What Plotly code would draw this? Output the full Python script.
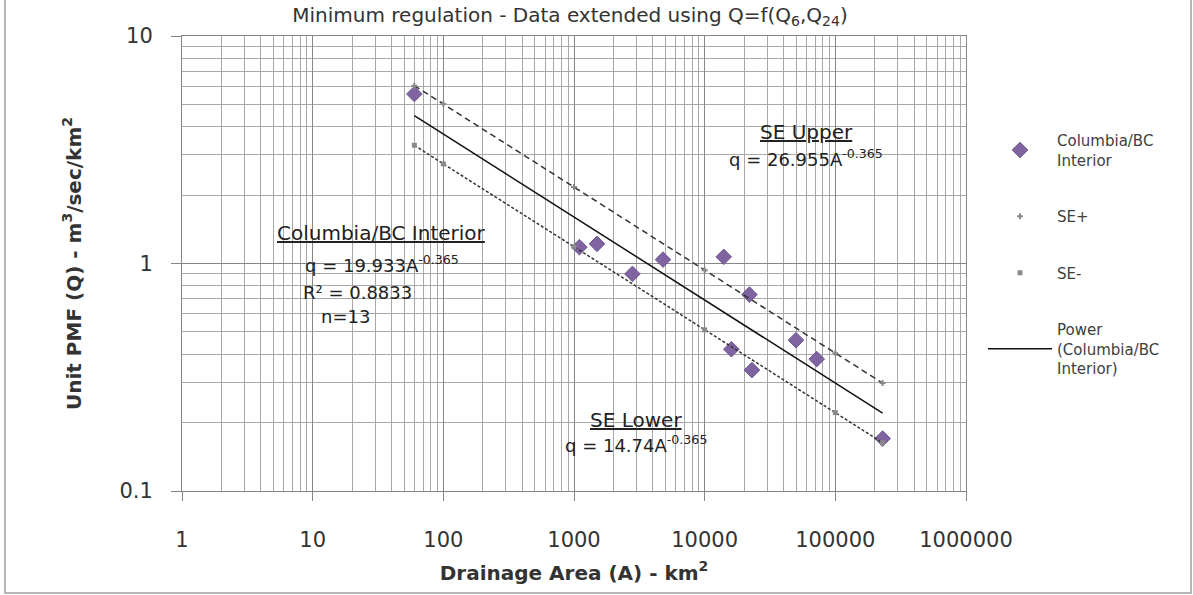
import plotly.graph_objects as go

# ---- data ----
area = [60, 1100, 1500, 2800, 4800, 14000, 16000, 22000, 23000, 50000, 72000, 230000]
unit_q = [5.56, 1.18, 1.22, 0.90, 1.04, 1.07, 0.42, 0.73, 0.34, 0.46, 0.38, 0.17]

fit_area = [60, 100, 1000, 10000, 100000, 230000]
fit_q = [4.47, 3.71, 1.60, 0.691, 0.298, 0.220]

se_area = [60, 100, 1000, 10000, 100000, 230000]
se_upper = [6.05, 5.02, 2.17, 0.935, 0.403, 0.298]
se_lower = [3.31, 2.74, 1.185, 0.511, 0.221, 0.163]

x_ticks = [1, 10, 100, 1000, 10000, 100000, 1000000]
x_labels = ["1", "10", "100", "1000", "10000", "100000", "1000000"]
y_ticks = [0.1, 1, 10]
y_labels = ["0.1", "1", "10"]

FONT = "DejaVu Sans"
TXT = "#333333"
GRID = "#a8a8a8"
MAJOR = "#868686"

# plot area in pixels
L, R, T, B = 182, 966, 36, 491
W, H = 1193, 595


def px(xp):
    return (xp - L) / (R - L)


def py(yp):
    return (B - yp) / (B - T)


fig = go.Figure()

fig.add_trace(go.Scatter(
    x=area, y=unit_q, mode="markers", name="Columbia/BC<br>Interior",
    legendgroup="a",
    marker=dict(symbol="diamond", size=12, color="#8064A2",
                line=dict(color="#6E5790", width=1)),
))
fig.add_trace(go.Scatter(
    x=se_area, y=se_upper, mode="lines", showlegend=False,
    line=dict(color="#333333", width=1.5, dash="6px,4px"), hoverinfo="skip",
))
fig.add_trace(go.Scatter(
    x=se_area, y=se_upper, mode="markers", name="SE+", legendgroup="b",
    marker=dict(symbol="cross", size=5, color="#8a8a8a"),
))
fig.add_trace(go.Scatter(
    x=se_area, y=se_lower, mode="lines", showlegend=False,
    line=dict(color="#333333", width=1.5, dash="3px,2px"), hoverinfo="skip",
))
fig.add_trace(go.Scatter(
    x=se_area, y=se_lower, mode="markers", name="SE-", legendgroup="c",
    marker=dict(symbol="square", size=5, color="#8a8a8a"),
))
fig.add_trace(go.Scatter(
    x=fit_area, y=fit_q, mode="lines", name="Power<br>(Columbia/BC<br>Interior)",
    legendgroup="d",
    line=dict(color="#111111", width=1.5),
))

minor_x = [m * 10 ** k for k in range(0, 6) for m in range(2, 10)]
minor_y = [m * 10 ** k for k in (-1, 0) for m in range(2, 10)]

fig.update_xaxes(
    type="log", range=[0, 6], tickvals=x_ticks, ticktext=x_labels,
    showgrid=True, gridcolor=MAJOR, gridwidth=1,
    showline=True, linecolor=MAJOR, linewidth=1, mirror=True,
    ticks="outside", ticklen=9, tickcolor=MAJOR, ticklabelstandoff=21,
    tickfont=dict(family=FONT, size=21, color=TXT),
    minor=dict(tickvals=minor_x, showgrid=True, gridcolor=GRID, gridwidth=1, ticks=""),
    title=dict(text="<b>Drainage Area (A) - km<sup>2</sup></b>",
               font=dict(family=FONT, size=20, color=TXT), standoff=14),
    zeroline=False,
)
fig.update_yaxes(
    type="log", range=[-1, 1], tickvals=y_ticks, ticktext=y_labels,
    showgrid=True, gridcolor=MAJOR, gridwidth=1,
    showline=True, linecolor=MAJOR, linewidth=1, mirror=True,
    ticks="outside", ticklen=10, tickcolor=MAJOR, ticklabelstandoff=14,
    tickfont=dict(family=FONT, size=21, color=TXT),
    minor=dict(tickvals=minor_y, showgrid=True, gridcolor=GRID, gridwidth=1, ticks=""),
    title=dict(text="<b>Unit PMF (Q) - m<sup>3</sup>/sec/km<sup>2</sup></b>",
               font=dict(family=FONT, size=20, color=TXT), standoff=32),
    zeroline=False,
)

head_font = dict(family=FONT, size=20, color="#222222")
eq_font = dict(family=FONT, size=18, color="#222222")
annotations = [
    ("<u>Columbia/BC Interior</u>", 381, 233, head_font),
    ("q = 19.933A<sup>-0.365</sup>", 382, 264, eq_font),
    ("R² = 0.8833", 357, 292, eq_font),
    ("n=13", 345, 316, eq_font),
    ("<u>SE Upper</u>", 806, 132, head_font),
    ("q = 26.955A<sup>-0.365</sup>", 806, 158, eq_font),
    ("<u>SE Lower</u>", 636, 420, head_font),
    ("q = 14.74A<sup>-0.365</sup>", 636, 444, eq_font),
]
for text, ax_, ay_, f in annotations:
    fig.add_annotation(text=text, x=px(ax_), y=py(ay_), xref="paper", yref="paper",
                       showarrow=False, xanchor="center", yanchor="middle", font=f)

# chart-area border
fig.add_shape(type="rect", xref="paper", yref="paper",
              x0=px(5), x1=px(1191), y0=py(593), y1=py(-5),
              line=dict(color="#a0a0a0", width=1.5), fillcolor="rgba(0,0,0,0)", layer="below")

fig.update_layout(
    width=W, height=H,
    margin=dict(l=L, r=W - R, t=T, b=H - B, pad=0),
    paper_bgcolor="white", plot_bgcolor="white",
    font=dict(family=FONT, color=TXT),
    title=dict(text="Minimum regulation - Data extended using Q=f(Q<sub>6</sub>,Q<sub>24</sub>)",
               x=570 / W, xanchor="center", y=1 - 15 / H, yanchor="middle",
               font=dict(family=FONT, size=20, color=TXT)),
    showlegend=True,
    legend=dict(x=px(983), y=py(124), xanchor="left", yanchor="top",
                font=dict(family=FONT, size=15, color="#404040"),
                tracegroupgap=34, bgcolor="rgba(0,0,0,0)", itemwidth=64),
)

fig.write_html("out.html", config={"displayModeBar": False},
               post_script="document.body.style.margin='0px';")
